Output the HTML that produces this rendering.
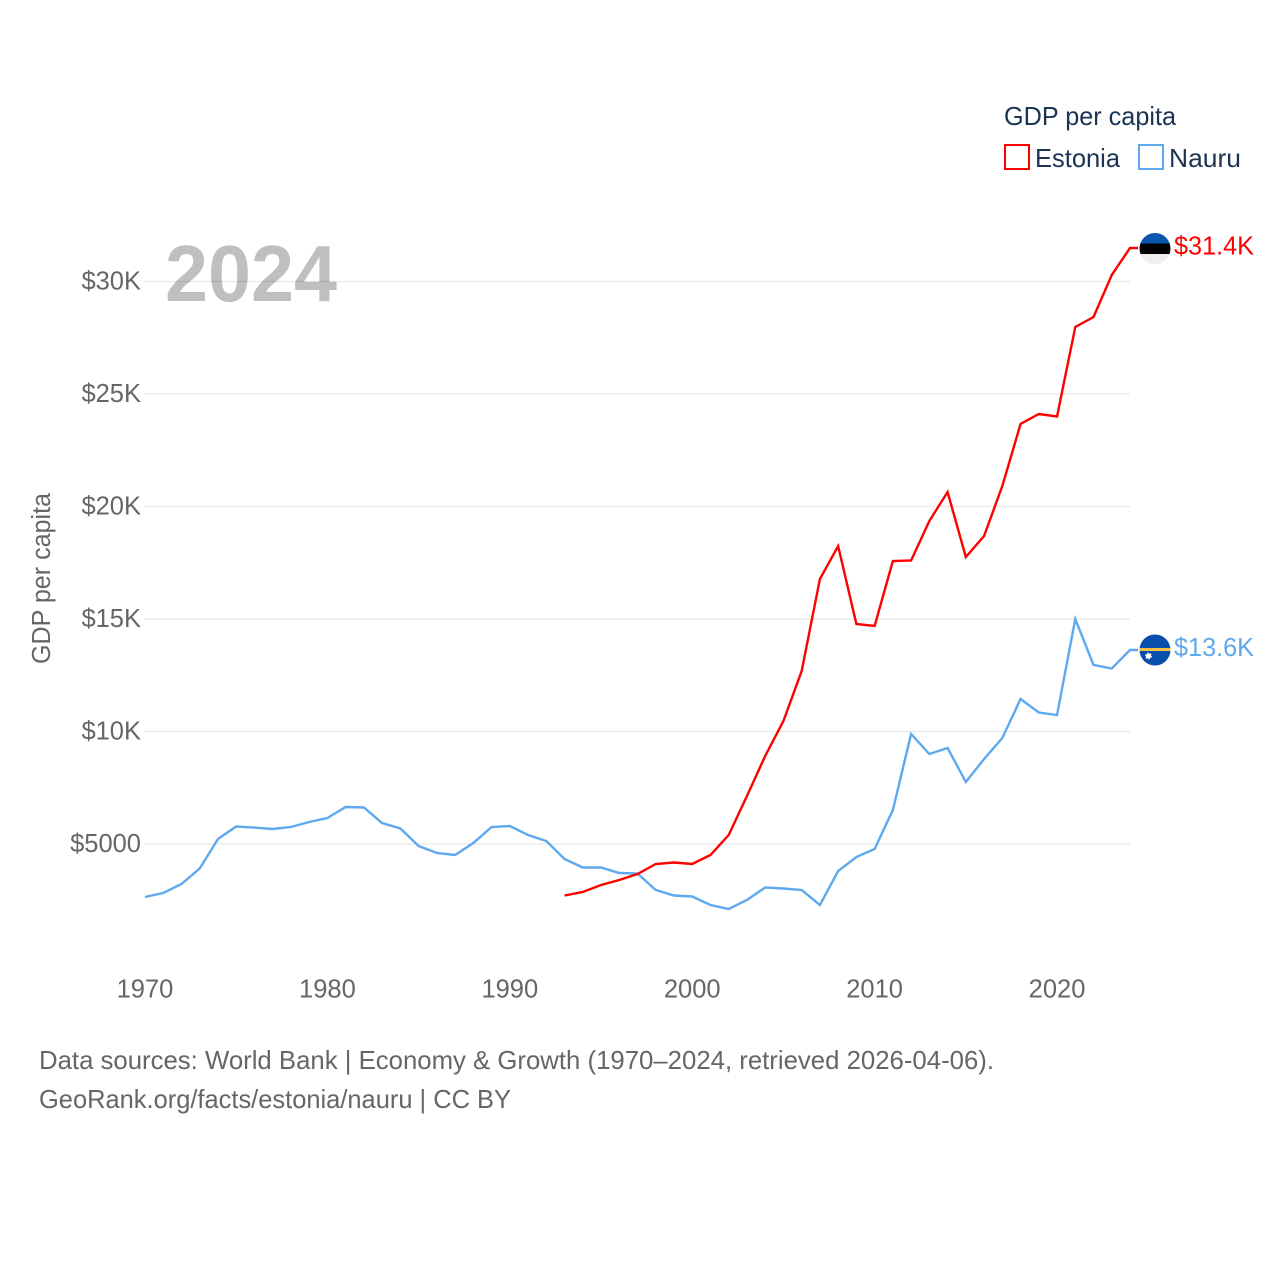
<!DOCTYPE html>
<html lang="en">
<head>
<meta charset="utf-8">
<title>GDP per capita: Estonia and Nauru</title>
<style>
html,body{margin:0;padding:0;background:#fff;width:1280px;height:1280px;overflow:hidden}
svg{display:block}
text{font-family:"Liberation Sans",sans-serif}
.tick{font-size:25.5px;fill:#666}
.legend{font-size:26px;fill:#1c3454}
.foot{font-size:26px;fill:#666}
.end{font-size:25.5px}
</style>
</head>
<body>
<svg id="chart" xmlns="http://www.w3.org/2000/svg" width="1280" height="1280" viewBox="0 0 1280 1280">
  <rect x="0" y="0" width="1280" height="1280" fill="#fff"/>
  <g id="grid"></g>
  <text x="165" y="301" font-size="80" font-weight="700" fill="#000" fill-opacity="0.25" textLength="172" lengthAdjust="spacingAndGlyphs">2024</text>
  <g id="yticks"></g>
  <g id="xticks"></g>
  <text class="tick" transform="translate(50,664) rotate(-90)" textLength="171" lengthAdjust="spacingAndGlyphs">GDP per capita</text>
  <g id="series"></g>
  <g id="flags"></g>
  <g>
    <text class="legend" x="1004" y="125" textLength="172" lengthAdjust="spacingAndGlyphs">GDP per capita</text>
    <rect x="1005" y="145" width="24" height="24" fill="#fff" stroke="#ff0000" stroke-width="2"/>
    <text class="legend" x="1035" y="167" textLength="85" lengthAdjust="spacingAndGlyphs">Estonia</text>
    <rect x="1139" y="145" width="24" height="24" fill="#fff" stroke="#5ea9ee" stroke-width="2"/>
    <text class="legend" x="1169" y="167" textLength="72" lengthAdjust="spacingAndGlyphs">Nauru</text>
  </g>
  <text class="foot" x="39" y="1069" textLength="955" lengthAdjust="spacingAndGlyphs">Data sources: World Bank | Economy &amp; Growth (1970–2024, retrieved 2026-04-06).</text>
  <text class="foot" x="39" y="1108" textLength="472" lengthAdjust="spacingAndGlyphs">GeoRank.org/facts/estonia/nauru | CC BY</text>
</svg>
<script>
const yTickValues = [5000, 10000, 15000, 20000, 25000, 30000];
const yTickLabels = ["$5000", "$10K", "$15K", "$20K", "$25K", "$30K"];
const xTickYears = [1970, 1980, 1990, 2000, 2010, 2020];
const xTickLabels = ["1970", "1980", "1990", "2000", "2010", "2020"];
const nauruStartYear = 1970;
const nauruValues = [2644, 2822, 3222, 3911, 5222, 5778, 5733, 5667, 5756, 5978, 6156, 6644, 6622, 5933, 5689, 4911, 4600, 4511, 5044, 5756, 5800, 5400, 5133, 4333, 3956, 3956, 3711, 3689, 2956, 2711, 2667, 2289, 2111, 2511, 3067, 3022, 2956, 2289, 3800, 4422, 4778, 6511, 9889, 9000, 9267, 7756, 8778, 9711, 11444, 10844, 10733, 15000, 12956, 12800, 13622];
const estoniaStartYear = 1993;
const estoniaValues = [2711, 2867, 3178, 3400, 3667, 4111, 4178, 4111, 4511, 5400, 7133, 8911, 10467, 12689, 16778, 18244, 14778, 14689, 17578, 17600, 19356, 20644, 17756, 18689, 20911, 23667, 24111, 24000, 27978, 28422, 30289, 31489];
const nauruEndLabel = "$13.6K";
const estoniaEndLabel = "$31.4K";

const NS = "http://www.w3.org/2000/svg";
const xScale = function (year) { return 145 + (year - 1970) * (1130 - 145) / 54; };
const yScale = function (value) { return 956.5 - value * 0.0225; };
function make(tag, parent) {
  const el = document.createElementNS(NS, tag);
  parent.appendChild(el);
  return el;
}

const gridGroup = document.getElementById("grid");
const yTickGroup = document.getElementById("yticks");
yTickValues.forEach(function (value, i) {
  const line = make("line", gridGroup);
  
  
  line.setAttribute("x1", 144);
  line.setAttribute("x2", 1130);
  line.setAttribute("y1", yScale(value));
  line.setAttribute("y2", yScale(value));
  line.setAttribute("stroke", "#e8e8e8");
  line.setAttribute("stroke-width", 1.3);
  const label = make("text", yTickGroup);
  
  
  label.setAttribute("class", "tick");
  label.setAttribute("x", 141);
  label.setAttribute("y", yScale(value) + 8);
  label.setAttribute("text-anchor", "end");
  label.textContent = yTickLabels[i];
});

const xTickGroup = document.getElementById("xticks");
xTickYears.forEach(function (year, i) {
  const label = make("text", xTickGroup);
  
  
  label.setAttribute("class", "tick");
  label.setAttribute("x", xScale(year));
  label.setAttribute("y", 997.5);
  label.setAttribute("text-anchor", "middle");
  label.textContent = xTickLabels[i];
});

const seriesGroup = document.getElementById("series");
function points(startYear, values) {
  const pts = values.map(function (v, i) {
    return xScale(startYear + i).toFixed(2) + "," + yScale(v).toFixed(2);
  });
  const last = values[values.length - 1];
  pts.push((xScale(startYear + values.length - 1) + 8).toFixed(2) + "," + yScale(last).toFixed(2));
  return pts.join(" ");
}

const nauruLine = make("polyline", seriesGroup);


nauruLine.setAttribute("points", points(nauruStartYear, nauruValues));
nauruLine.setAttribute("fill", "none");
nauruLine.setAttribute("stroke", "#5ea9ee");
nauruLine.setAttribute("stroke-width", 2.4);

const estoniaLine = make("polyline", seriesGroup);


estoniaLine.setAttribute("points", points(estoniaStartYear, estoniaValues));
estoniaLine.setAttribute("fill", "none");
estoniaLine.setAttribute("stroke", "#ff0000");
estoniaLine.setAttribute("stroke-width", 2.4);

const flagsGroup = document.getElementById("flags");
const flagX = xScale(2024) + 25;

function flagRect(parent, top, height, fill, clipId) {
  const r = make("rect", parent);
  r.setAttribute("x", flagX - 16);
  r.setAttribute("y", top);
  r.setAttribute("width", 32);
  r.setAttribute("height", height);
  r.setAttribute("fill", fill);
  r.setAttribute("clip-path", "url(#" + clipId + ")");
  return r;
}
function flagClip(id, cy) {
  const clip = make("clipPath", flagsGroup);
  clip.setAttribute("id", id);
  const c = make("circle", clip);
  c.setAttribute("cx", flagX);
  c.setAttribute("cy", cy);
  c.setAttribute("r", 15.5);
}

const estY = yScale(estoniaValues[estoniaValues.length - 1]);
flagClip("clip-estonia", estY + 0.5);
const estFlag = make("g", flagsGroup);


flagRect(estFlag, estY - 16, 12, "#0a55ae", "clip-estonia");
flagRect(estFlag, estY - 4.5, 11, "#000000", "clip-estonia");
flagRect(estFlag, estY + 6, 11, "#eeeeee", "clip-estonia");

const naY = yScale(nauruValues[nauruValues.length - 1]);
flagClip("clip-nauru", naY);
const naFlag = make("g", flagsGroup);


flagRect(naFlag, naY - 16, 32, "#0a4ead", "clip-nauru");
flagRect(naFlag, naY - 2, 3, "#f5c242", "clip-nauru");
const star = make("circle", naFlag);


star.setAttribute("cx", flagX - 6.5);
star.setAttribute("cy", naY + 6);
star.setAttribute("r", 2.6);
star.setAttribute("fill", "#ffffff");
star.setAttribute("stroke", "#ffffff");
star.setAttribute("stroke-width", 1.6);
star.setAttribute("stroke-dasharray", "1.4 1.3");

const estLabel = make("text", flagsGroup);


estLabel.setAttribute("class", "end");
estLabel.setAttribute("x", 1174);
estLabel.setAttribute("y", estY + 6.5);
estLabel.setAttribute("fill", "#ff0000");
estLabel.setAttribute("textLength", 80);
estLabel.setAttribute("lengthAdjust", "spacingAndGlyphs");
estLabel.textContent = estoniaEndLabel;

const naLabel = make("text", flagsGroup);


naLabel.setAttribute("class", "end");
naLabel.setAttribute("x", 1174);
naLabel.setAttribute("y", naY + 6);
naLabel.setAttribute("fill", "#5ea9ee");
naLabel.setAttribute("textLength", 80);
naLabel.setAttribute("lengthAdjust", "spacingAndGlyphs");
naLabel.textContent = nauruEndLabel;
</script>
</body>
</html>
